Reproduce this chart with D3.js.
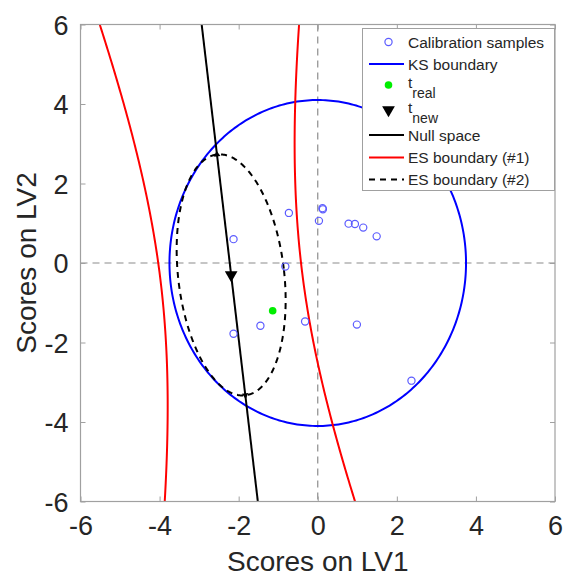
<!DOCTYPE html>
<html>
<head>
<meta charset="utf-8">
<script src="https://cdn.jsdelivr.net/npm/d3@7"></script>
<style>
  html, body { margin: 0; padding: 0; background: #fff; }
  svg { display: block; }
  text { font-family: "Liberation Sans", Arial, Helvetica, sans-serif; }
</style>
</head>
<body>
<svg id="chart" width="564" height="579"></svg>
<script>
// ---------- data ----------
const xTicks = [-6, -4, -2, 0, 2, 4, 6];
const yTicks = [-6, -4, -2, 0, 2, 4, 6];
const calibX = [-0.73, 0.13, 0.12, 0.03, 0.78, 0.94, 1.15, 1.49, -2.13, -0.82, -1.45, -0.32, -2.13, 0.99, 2.37];
const calibY = [1.26, 1.35, 1.38, 1.06, 0.99, 0.98, 0.89, 0.67, 0.60, -0.09, -1.58, -1.47, -1.78, -1.55, -2.96];
const tReal = [-1.14, -1.20];
const tNew = [-2.19, -0.30];
// KS boundary: axis-aligned ellipse [cx, cy, rx, ry]
const ksEllipse = [0, 0, 3.75, 4.10];
// Null-space direction angle from vertical (degrees), tilted to the left going up
const nullTiltDeg = 6.75;
// ES boundary #2: ellipse about t_new [semi-axis across null space, semi-axis along null space]
const es2Axes = [1.34, 3.05];
// ES boundary #1: hyperbola about t_new [half gap across null space, scale along null space]
const es1Axes = [1.79, 6.5];
const legendLabels = ["Calibration samples", "KS boundary", "t", "t", "Null space", "ES boundary (#1)", "ES boundary (#2)"];
const legendSubs = ["", "", "real", "new", "", "", ""];

// ---------- layout ----------
const L = 80.5, R = 555, T = 24.5, B = 501.5;
const svg = d3.select("#chart");
const x = d3.scaleLinear().domain([-6, 6]).range([L, R]);
const y = d3.scaleLinear().domain([-6, 6]).range([B, T]);

svg.append("defs").append("clipPath").attr("id", "clip")
  .append("rect").attr("x", L).attr("y", T).attr("width", R - L).attr("height", B - T);

const plot = svg.append("g").attr("clip-path", "url(#clip)");

// zero reference lines
plot.append("line").attr("x1", x(0)).attr("x2", x(0)).attr("y1", T).attr("y2", B)
  .attr("stroke", "#8c8c8c").attr("stroke-width", 1.2).attr("stroke-dasharray", "7,5");
plot.append("line").attr("x1", L).attr("x2", R).attr("y1", y(0)).attr("y2", y(0))
  .attr("stroke", "#8c8c8c").attr("stroke-width", 1.2).attr("stroke-dasharray", "7,5");

const line = d3.line().x(d => x(d[0])).y(d => y(d[1]));
const th = nullTiltDeg * Math.PI / 180;
const dir = [-Math.sin(th), Math.cos(th)];   // along null space
const perp = [Math.cos(th), Math.sin(th)];   // across null space
const angles = d3.range(0, 2 * Math.PI + 0.001, Math.PI / 180);

// KS boundary
const ksPts = angles.map(a => [ksEllipse[0] + ksEllipse[2] * Math.cos(a), ksEllipse[1] + ksEllipse[3] * Math.sin(a)]);
plot.append("path").attr("d", line(ksPts)).attr("fill", "none").attr("stroke", "#0000ff").attr("stroke-width", 2);

// ES boundary #1 (hyperbola branches)
const us = d3.range(-9, 9.001, 0.1);
[1, -1].forEach(sgn => {
  const pts = us.map(u => {
    const v = sgn * es1Axes[0] * Math.sqrt(1 + (u * u) / (es1Axes[1] * es1Axes[1]));
    return [tNew[0] + u * dir[0] + v * perp[0], tNew[1] + u * dir[1] + v * perp[1]];
  });
  plot.append("path").attr("d", line(pts)).attr("fill", "none").attr("stroke", "#ff0000").attr("stroke-width", 2);
});

// ES boundary #2 (dashed ellipse)
const es2Pts = angles.map(a => {
  const v = es2Axes[0] * Math.cos(a), u = es2Axes[1] * Math.sin(a);
  return [tNew[0] + u * dir[0] + v * perp[0], tNew[1] + u * dir[1] + v * perp[1]];
});
plot.append("path").attr("d", line(es2Pts)).attr("fill", "none").attr("stroke", "#000")
  .attr("stroke-width", 2).attr("stroke-dasharray", "6,5");

// Null space line
const nullPts = [-9, 9].map(t => [tNew[0] + t * dir[0], tNew[1] + t * dir[1]]);
plot.append("path").attr("d", line(nullPts)).attr("fill", "none").attr("stroke", "#000").attr("stroke-width", 2);

// small caps where null space meets ES #2
[1, -1].forEach(sgn => {
  const p = [tNew[0] + sgn * es2Axes[1] * dir[0], tNew[1] + sgn * es2Axes[1] * dir[1]];
  plot.append("path")
    .attr("d", d3.symbol(d3.symbolTriangle, 18)())
    .attr("transform", `translate(${x(p[0])},${y(p[1])}) rotate(${sgn > 0 ? -nullTiltDeg : 180 - nullTiltDeg})`)
    .attr("fill", "#000");
});

// calibration samples
plot.selectAll("circle.cal").data(calibX.map((v, i) => [v, calibY[i]])).enter()
  .append("circle").attr("class", "cal")
  .attr("cx", d => x(d[0])).attr("cy", d => y(d[1])).attr("r", 3.6)
  .attr("fill", "none").attr("stroke", "#5c5cff").attr("stroke-width", 1.2);

// t_real
plot.append("circle").attr("cx", x(tReal[0])).attr("cy", y(tReal[1])).attr("r", 3.8).attr("fill", "#00ee00");

// t_new
plot.append("path").attr("d", d3.symbol(d3.symbolTriangle, 70)())
  .attr("transform", `translate(${x(tNew[0])},${y(tNew[1])}) rotate(180)`).attr("fill", "#000");

// ---------- axes box & ticks ----------
const axisCol = "#a0a0a0";
svg.append("rect").attr("x", L).attr("y", T).attr("width", R - L).attr("height", B - T)
  .attr("fill", "none").attr("stroke", axisCol).attr("stroke-width", 1.2);

const tl = 5;
const gx = svg.append("g").attr("transform", `translate(0,${B})`)
  .call(d3.axisBottom(x).tickValues(xTicks).tickSizeInner(-tl).tickSizeOuter(0).tickPadding(14).tickFormat(d3.format("d")));
const gxt = svg.append("g").attr("transform", `translate(0,${T})`)
  .call(d3.axisTop(x).tickValues(xTicks).tickSizeInner(-tl).tickSizeOuter(0).tickFormat(""));
const gy = svg.append("g").attr("transform", `translate(${L},0)`)
  .call(d3.axisLeft(y).tickValues(yTicks).tickSizeInner(-tl).tickSizeOuter(0).tickPadding(12).tickFormat(d3.format("d")));
const gyr = svg.append("g").attr("transform", `translate(${R},0)`)
  .call(d3.axisRight(y).tickValues(yTicks).tickSizeInner(-tl).tickSizeOuter(0).tickFormat(""));
[gx, gxt, gy, gyr].forEach(g => {
  g.select(".domain").remove();
  g.selectAll(".tick line").attr("stroke", axisCol).attr("stroke-width", 1);
  g.selectAll("text").attr("fill", "#262626").style("font-size", "27px")
    .style("font-family", '"Liberation Sans", Arial, sans-serif');
});
gx.selectAll("text").text(d => d < 0 ? "-" + Math.abs(d) : d);
gy.selectAll("text").text(d => d < 0 ? "-" + Math.abs(d) : d).attr("dy", "0.36em");

// axis titles
svg.append("text").attr("x", (L + R) / 2).attr("y", 571).attr("text-anchor", "middle")
  .attr("fill", "#262626").style("font-size", "28px").text("Scores on LV1");
svg.append("text").attr("transform", `translate(36,${(T + B) / 2}) rotate(-90)`).attr("text-anchor", "middle")
  .attr("fill", "#262626").style("font-size", "28px").text("Scores on LV2");

// ---------- legend ----------
const lg = svg.append("g");
lg.append("rect").attr("x", 362.5).attr("y", 28.5).attr("width", 192).attr("height", 162)
  .attr("fill", "#fff").attr("stroke", "#a0a0a0").attr("stroke-width", 1);
const rowY = [42, 64, 86, 111, 135, 157.5, 179.5];
const sx0 = 369, sx1 = 404, smid = 388.5, tx = 408;
legendLabels.forEach((lab, i) => {
  const cy = rowY[i];
  if (i === 0) {
    lg.append("circle").attr("cx", smid).attr("cy", cy).attr("r", 3.6).attr("fill", "none")
      .attr("stroke", "#5c5cff").attr("stroke-width", 1.2);
  } else if (i === 1) {
    lg.append("line").attr("x1", sx0).attr("x2", sx1).attr("y1", cy).attr("y2", cy).attr("stroke", "#0000ff").attr("stroke-width", 2);
  } else if (i === 2) {
    lg.append("circle").attr("cx", smid).attr("cy", cy - 1).attr("r", 3.8).attr("fill", "#00ee00");
  } else if (i === 3) {
    lg.append("path").attr("d", d3.symbol(d3.symbolTriangle, 70)())
      .attr("transform", `translate(${smid},${cy - 1}) rotate(180)`).attr("fill", "#000");
  } else if (i === 4) {
    lg.append("line").attr("x1", sx0).attr("x2", sx1).attr("y1", cy).attr("y2", cy).attr("stroke", "#000").attr("stroke-width", 2);
  } else if (i === 5) {
    lg.append("line").attr("x1", sx0).attr("x2", sx1).attr("y1", cy).attr("y2", cy).attr("stroke", "#ff0000").attr("stroke-width", 2);
  } else {
    lg.append("line").attr("x1", sx0).attr("x2", sx1).attr("y1", cy).attr("y2", cy).attr("stroke", "#000")
      .attr("stroke-width", 2).attr("stroke-dasharray", "6,5");
  }
  const t = lg.append("text").attr("x", tx).attr("y", legendSubs[i] ? cy - 4 : cy).attr("dy", "0.36em")
    .attr("fill", "#262626").style("font-size", "15.5px").text(lab);
  if (legendSubs[i]) {
    t.append("tspan").attr("dy", "0.75em").style("font-size", "14px").text(legendSubs[i]);
  }
});
</script>
</body>
</html>
